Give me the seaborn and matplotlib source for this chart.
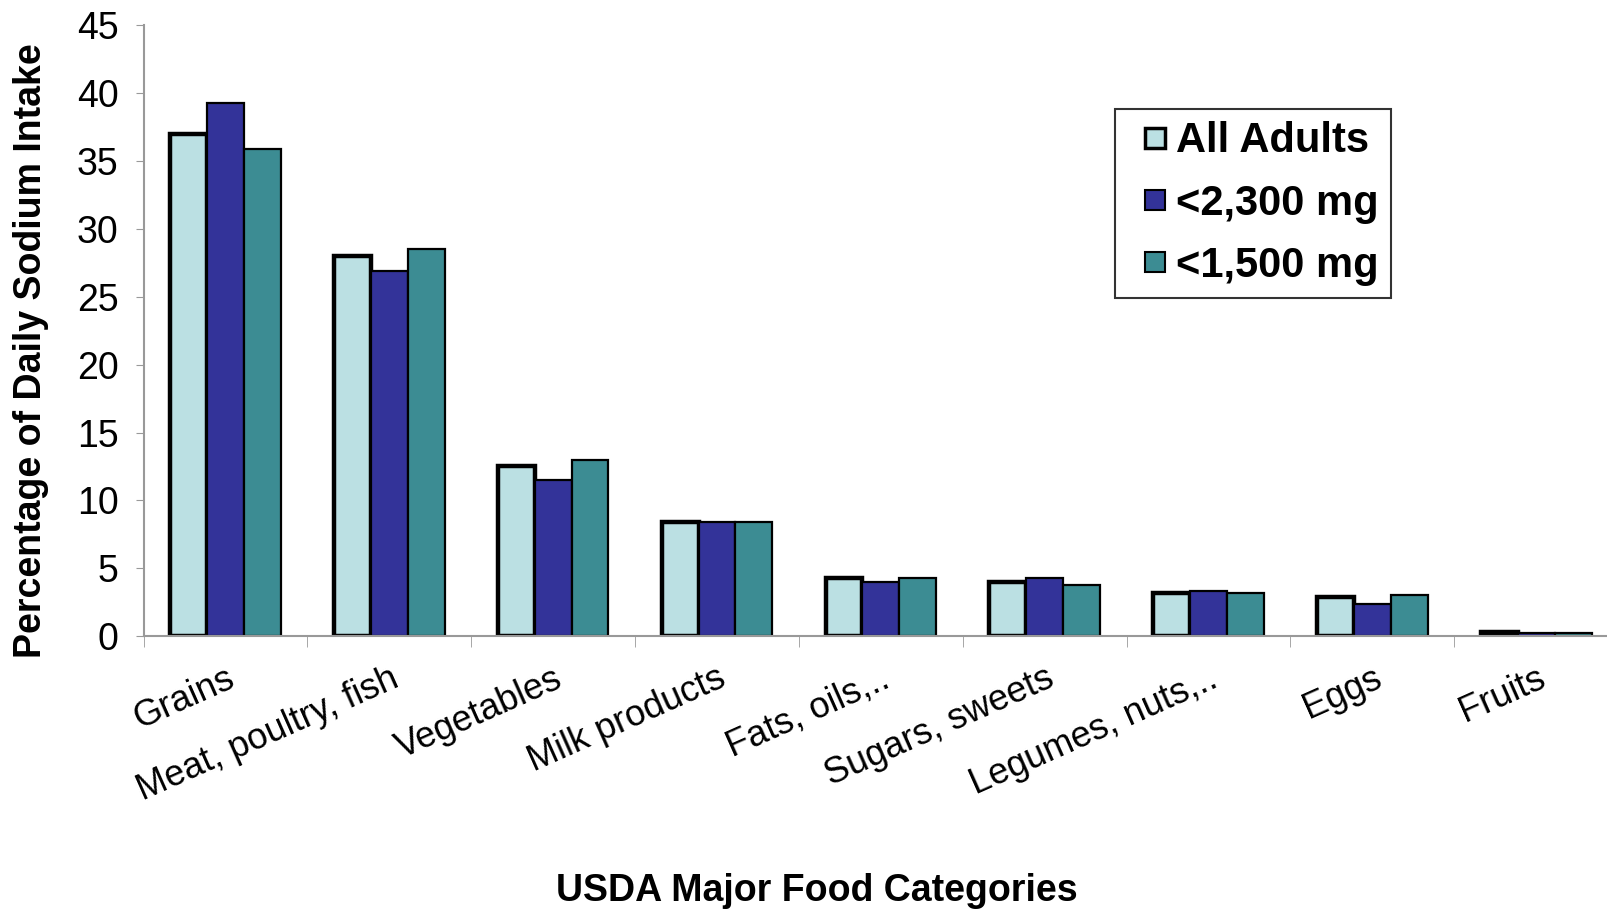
import pandas as pd
import seaborn as sns
import matplotlib.pyplot as plt
import numpy as np
from matplotlib.lines import Line2D

categories = ['Grains', 'Meat, poultry, fish', 'Vegetables', 'Milk products', 'Fats, oils,..',
              'Sugars, sweets', 'Legumes, nuts,..', 'Eggs', 'Fruits']
groups = ['All Adults', '<2,300 mg', '<1,500 mg']
all_adults = [37.0, 28.0, 12.5, 8.4, 4.3, 4.0, 3.2, 2.9, 0.3]
lt_2300 = [39.3, 26.9, 11.5, 8.4, 4.0, 4.3, 3.3, 2.4, 0.2]
lt_1500 = [35.9, 28.5, 13.0, 8.4, 4.3, 3.8, 3.2, 3.0, 0.2]
colors = ['#BBE0E3', '#333399', '#3C8C93']

df = pd.DataFrame({'category': categories * 3,
                   'group': np.repeat(groups, len(categories)),
                   'pct': all_adults + lt_2300 + lt_1500})

sns.set_style('white')
plt.rcParams['font.family'] = ['Liberation Sans', 'DejaVu Sans']
plt.rcParams['text.color'] = 'black'
plt.rcParams['axes.labelcolor'] = 'black'

fig = plt.figure(figsize=(16.08, 9.10), dpi=100)
ax = fig.add_axes([0.0893, 0.301, 0.917, 0.671])
sns.barplot(data=df, x='category', y='pct', hue='group', palette=colors,
            width=0.675, edgecolor='black', saturation=1, ax=ax, legend=False)

# thicker outline on the first series, like the original
for i, cont in enumerate(ax.containers):
    for bar in cont:
        bar.set_linewidth(3.2 if i == 0 else 1.6)

ax.set_ylim(0, 45)
ax.set_xlim(-0.5, len(categories) - 0.5)
ax.set_yticks(range(0, 46, 5))
ax.tick_params(axis='y', labelsize=27, length=6, color='#999999', labelcolor='black',
               direction='out', left=True, pad=12)

ax.set_xticks(range(len(categories)))
ax.set_xticklabels(categories, rotation=24, ha='right', rotation_mode='anchor', fontsize=26)
ax.set_xticks(np.arange(-0.5, len(categories), 1), minor=True)
ax.tick_params(axis='x', which='major', length=0, pad=18, labelcolor='black')
ax.tick_params(axis='x', which='minor', length=8, color='#999999', direction='out', bottom=True)
for lbl in ax.get_xticklabels():
    x, y = lbl.get_position()
    lbl.set_x(x + 0.2)

for side in ['top', 'right']:
    ax.spines[side].set_visible(False)
for side in ['left', 'bottom']:
    ax.spines[side].set_color('#999999')
    ax.spines[side].set_linewidth(1.5)

ax.set_ylabel('Percentage of Daily Sodium Intake', fontsize=27, fontweight='bold')
ax.yaxis.set_label_coords(-0.064, 0.467)
ax.set_xlabel('')
fig.text(0.508, 0.021, 'USDA Major Food Categories', fontsize=27, fontweight='bold', ha='center', va='center')

handles = [Line2D([], [], marker='s', linestyle='none', markersize=15, markerfacecolor=c,
                  markeredgecolor='black', markeredgewidth=2.5 if i == 0 else 1.5)
           for i, c in enumerate(colors)]
leg = ax.legend(handles, groups, loc='upper left', bbox_to_anchor=(1115 / 1608, 1 - 109 / 910),
                bbox_transform=fig.transFigure, frameon=True, fancybox=False,
                prop={'size': 30, 'weight': 'bold'}, handlelength=1.32,
                handletextpad=-0.15, labelspacing=0.53, borderpad=0.3, borderaxespad=0)
leg.get_frame().set_edgecolor('black')
leg.get_frame().set_linewidth(1.5)

fig.savefig('out.png', dpi=100)
